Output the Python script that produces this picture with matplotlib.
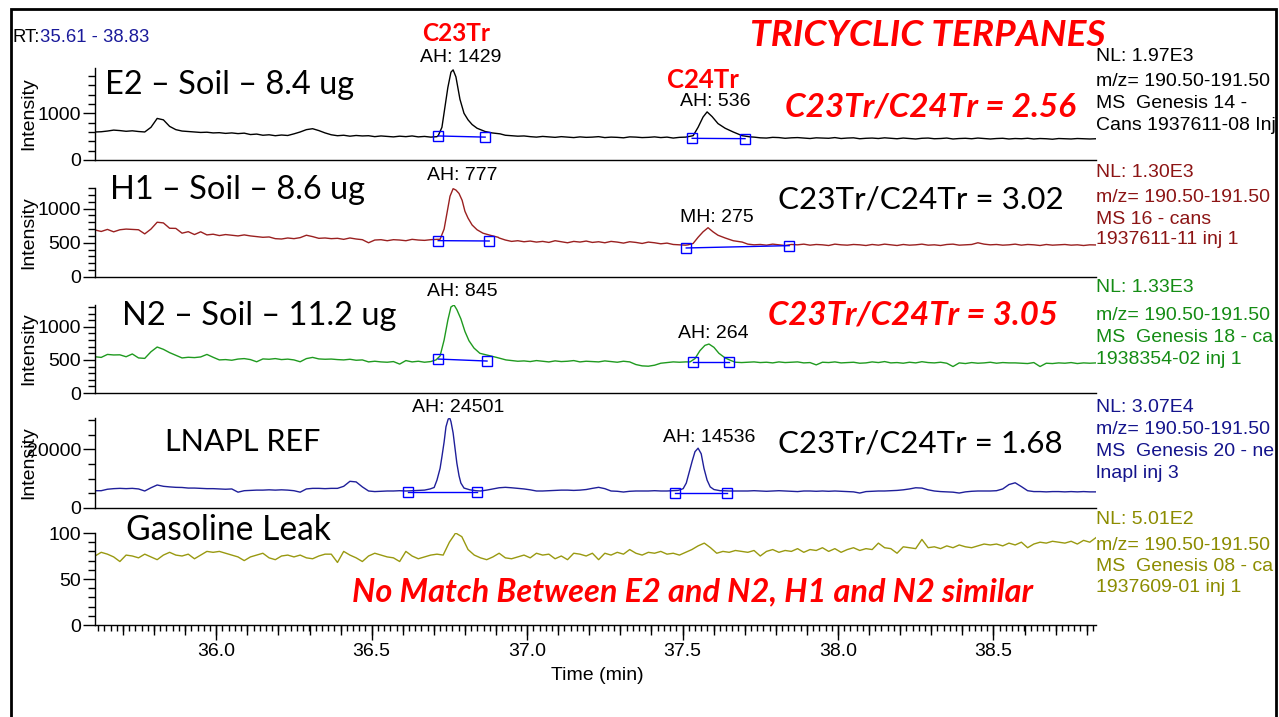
import numpy as np
import matplotlib
matplotlib.use("Agg")
import matplotlib.pyplot as plt
from matplotlib.ticker import MultipleLocator, FixedLocator, FuncFormatter
from matplotlib.patches import Rectangle

plt.rcParams['font.family'] = ['Liberation Sans', 'DejaVu Sans']
plt.rcParams['font.size'] = 14

W, H = 1279, 717
T_MIN, T_MAX = 35.61, 38.83

# ---------------- data ----------------
# baseline traces sampled every 0.02 min from 35.61 to 38.83
e2_base = [600, 605, 620, 640, 630, 615, 625, 610,
           600, 700, 890, 860, 720, 650, 620, 610,
           600, 590, 595, 580, 585, 570, 580, 565, 575,
           545, 555, 530, 540, 520, 535, 525,
           560, 600, 650, 670, 630, 580,
           540, 520, 530, 510, 525, 515, 520, 500, 515, 505, 495, 510, 500, 515, 495, 505, 490, 500,
           700, 1800, 1200, 900, 750, 650, 600, 580, 560, 540,
           530, 520, 510, 515, 500, 490, 505, 495, 485, 500,
           490, 480, 495, 485, 490, 500, 480, 490, 485, 475,
           495, 490, 480, 485, 495, 480, 490, 470, 485, 490,
           500, 700, 1000, 850, 700, 600, 540, 500, 490,
           480, 490, 475, 470, 485, 480, 465, 475, 480, 470,
           460, 475, 470, 465, 480, 460, 470, 475, 455, 465,
           470, 460, 475, 465, 455, 470, 460, 450, 465, 470,
           455, 460, 470, 450, 460, 465, 455, 470, 460, 450,
           460, 465, 450, 460, 455, 465, 450, 460, 455, 445,
           460, 455, 450, 460, 455, 450, 455]
e2_c23_t = [36.714, 36.726, 36.736, 36.745, 36.755, 36.762, 36.771, 36.784, 36.797,
            36.810, 36.823, 36.839, 36.865, 36.887, 36.913]
e2_c23_v = [520, 700, 1150, 1550, 1880, 1930, 1780, 1300, 1000, 860, 760, 680, 610, 580, 560]
e2_c24_t = [37.518, 37.534, 37.550, 37.566, 37.579, 37.595, 37.614, 37.637, 37.663, 37.692, 37.718]
e2_c24_v = [500, 520, 700, 920, 1030, 930, 780, 680, 600, 520, 495]

h1_base = [687, 665, 695, 660, 690, 700, 695, 690,
           630, 700, 800, 790, 712, 710, 640, 662,
           620, 660, 615, 625, 605, 620, 610, 600, 615,
           600, 590, 580, 585, 560, 555, 570,
           560, 575, 610, 590, 565, 570,
           560, 565, 550, 570, 555, 545, 500, 540, 545, 530, 545, 540, 530, 550, 540, 535, 545, 550,
           560, 900, 1250, 1000, 800, 700, 640, 610, 590, 570,
           540, 520, 530, 515, 525, 510, 520, 505, 530, 515,
           500, 520, 510, 525, 505, 515, 500, 520, 510, 495,
           515, 505, 490, 510, 500, 485, 495, 475, 470, 465,
           500, 600, 700, 650, 580, 530, 510, 500, 490,
           480, 470, 475, 465, 480, 470, 460, 475, 470, 480,
           465, 475, 470, 460, 480, 470, 465, 475, 470, 460,
           475, 465, 480, 470, 460, 475, 465, 470, 480, 465,
           470, 460, 475, 480, 465, 470, 475, 500, 480, 470,
           475, 465, 470, 480, 465, 475, 470, 460, 475, 465,
           470, 475, 465, 470, 460, 470, 468]
h1_c23_t = [36.720, 36.733, 36.743, 36.752, 36.762, 36.771, 36.781, 36.791, 36.800,
            36.810, 36.823, 36.839, 36.858, 36.881, 36.907]
h1_c23_v = [550, 700, 950, 1180, 1290, 1270, 1220, 1120, 960, 860, 760, 690, 640, 610, 580]
h1_c24_t = [37.518, 37.534, 37.550, 37.566, 37.582, 37.598, 37.614, 37.637, 37.663, 37.692]
h1_c24_v = [470, 490, 580, 660, 720, 660, 610, 570, 530, 510]

n2_base = [548, 538, 583, 575, 577, 548, 590, 530,
           523, 623, 695, 660, 610, 570, 530, 540,
           535, 545, 583, 540, 500, 505, 495, 513, 520,
           505, 472, 515, 510, 520, 505, 512,
           500, 472, 520, 538, 515, 510,
           513, 505, 500, 510, 495, 500, 470, 480, 470, 465, 475, 437, 490, 470, 480, 465, 475, 470,
           560, 900, 1300, 1100, 800, 650, 580, 550, 530, 510,
           495, 490, 480, 485, 475, 490, 480, 470, 485, 475,
           480, 490, 470, 480, 475, 470, 485, 475, 465, 480,
           470, 430, 410, 405, 420, 450, 460, 470, 465, 470,
           470, 600, 740, 650, 520, 480, 470, 465, 460,
           465, 470, 460, 465, 455, 470, 460, 465, 470, 455,
           460, 425, 465, 460, 470, 455, 460, 465, 450, 455,
           470, 460, 475, 455, 460, 450, 465, 455, 473, 460,
           455, 465, 450, 400, 455, 445, 460, 450, 455, 465,
           450, 460, 455, 455, 450, 445, 460, 400, 450, 445,
           455, 450, 460, 445, 455, 450, 455]
n2_c23_t = [36.707, 36.720, 36.733, 36.745, 36.755, 36.765, 36.774, 36.787, 36.800,
            36.813, 36.829, 36.848, 36.874, 36.900, 36.932]
n2_c23_v = [500, 560, 800, 1100, 1300, 1330, 1260, 1120, 930, 790, 680, 600, 570, 540, 500]
n2_c24_t = [37.524, 37.540, 37.556, 37.572, 37.585, 37.601, 37.617, 37.637, 37.656]
n2_c24_v = [470, 520, 640, 720, 740, 690, 600, 530, 490]

lnapl_base = [5900, 5900, 6400, 6600, 6700, 6600, 6700, 6500,
              5800, 6900, 7850, 7400, 7200, 7050, 7000, 6800,
              6800, 6700, 6600, 6600, 6500, 6400, 6500, 5400, 5900,
              6000, 6100, 6100, 6200, 6100, 6200, 6100,
              5900, 5400, 6500, 6700, 6700, 6600,
              6700, 6700, 7400, 9100, 8900, 7200, 5800, 5600, 5700, 5800, 5800, 5900, 5800, 5900,
              6000, 6100, 6300, 6500,
              9000, 30000, 20000, 9000, 6500, 6000, 5800, 6100, 6500, 6900,
              7050, 6900, 6700, 6500, 6200, 5800, 5800, 5900, 6000, 6100,
              6100, 6000, 6100, 6300, 6700, 7050, 6600, 5800, 5700, 5450,
              5700, 5800, 5800, 5800, 5900, 5800, 5800, 5900, 6000, 6100,
              6600, 16000, 20000, 9500, 6300, 5900, 5800, 5800, 5800,
              5800, 5900, 5800, 5700, 5800, 5900, 5800, 5700, 5600, 5800,
              5800, 5700, 5800, 5700, 5800, 5700, 5600, 5500, 5100, 5600,
              5700, 5800, 5800, 5900, 6000, 6200, 6500, 6900, 6800, 6200,
              5800, 5600, 5500, 5400, 5100, 5500, 5700, 5800, 5800, 5800,
              5900, 6500, 8000, 8600, 7300, 5900, 5600, 5600, 5500, 5600,
              5600, 5500, 5600, 5500, 5600, 5500, 5500]
lnapl_c23_t = [36.688, 36.701, 36.710, 36.720, 36.726, 36.733, 36.739, 36.746, 36.751,
               36.755, 36.762, 36.768, 36.774, 36.781, 36.787, 36.797, 36.816, 36.835]
lnapl_c23_v = [6500, 7000, 9500, 13500, 17500, 22500, 27700, 30300, 30700,
               29500, 25600, 20500, 15300, 11000, 8500, 6800, 6200, 5900]
lnapl_c24_t = [37.486, 37.502, 37.512, 37.521, 37.531, 37.540, 37.550, 37.560, 37.569,
               37.579, 37.589, 37.601, 37.621]
lnapl_c24_v = [6000, 6600, 8500, 12000, 16000, 19200, 20400, 18500, 13500, 9500, 7200, 6300, 5900]

gas_base = [75, 79, 77, 74, 69, 76, 75, 73,
            77, 74, 71, 76, 79, 76, 75, 77,
            72, 76, 80, 79, 80, 78, 76, 74, 70,
            74, 76, 78, 73, 71, 75, 76,
            74, 76, 73, 72, 75, 77,
            77, 68, 80, 76, 73, 69, 75, 78, 76, 74, 73, 69, 80, 75, 72, 74, 76, 77,
            76, 90, 100, 96, 82, 76, 73, 71, 74, 78,
            73, 72, 74, 76, 73, 78, 76, 77, 72, 75,
            71, 78, 77, 75, 78, 71, 78, 76, 79, 77,
            82, 78, 76, 79, 78, 80, 77, 78, 76, 79,
            82, 86, 89, 84, 78, 80, 79, 81, 80,
            79, 81, 75, 80, 82, 79, 81, 80, 83, 79,
            82, 81, 84, 80, 83, 79, 82, 84, 81, 83,
            82, 89, 84, 83, 78, 85, 84, 83, 93, 84,
            85, 83, 86, 84, 87, 85, 84, 86, 88, 87,
            88, 86, 89, 87, 90, 84, 88, 90, 89, 91,
            90, 89, 91, 88, 92, 90, 95]

# peak integration baseline points (start, end)
e2_marks = [([36.713, 36.865], [515, 490]), ([37.531, 37.701], [464, 457])]
h1_marks = [([36.714, 36.878], [531, 526]), ([37.512, 37.843], [424, 458])]
n2_marks = [([36.714, 36.871], [513, 483]), ([37.534, 37.650], [468, 468])]
lnapl_marks = [([36.617, 36.839], [5560, 5560]), ([37.476, 37.643], [5020, 5020])]

y_max = [1970, 1300, 1330, 30700, 100]
y_major = [[0, 1000], [0, 500, 1000], [0, 500, 1000], [0, 20000], [0, 50, 100]]
y_minor = [200, 100, 100, 5000, 10]

trace_colors = ['#000000', '#9a2020', '#1f9a1f', '#1f1f9a', '#999910']
text_colors = ['#000000', '#8c1414', '#148c14', '#14148c', '#8c8c00']

info_texts = [
    ["NL: 1.97E3", "m/z= 190.50-191.50", "MS  Genesis 14 -", "Cans 1937611-08 Inj"],
    ["NL: 1.30E3", "m/z= 190.50-191.50", "MS 16 - cans", "1937611-11 inj 1"],
    ["NL: 1.33E3", "m/z= 190.50-191.50", "MS  Genesis 18 - ca", "1938354-02 inj 1"],
    ["NL: 3.07E4", "m/z= 190.50-191.50", "MS  Genesis 20 - ne", "lnapl inj 3"],
    ["NL: 5.01E2", "m/z= 190.50-191.50", "MS  Genesis 08 - ca", "1937609-01 inj 1"],
]
info_y = [[56.7, 82, 103.5, 125], [172.7, 197, 219, 240], [288, 315, 337.7, 359],
          [407.7, 430, 451.7, 473], [520, 545, 566.7, 588]]

peak_labels = [("AH: 1429", 461, 57), ("AH: 536", 715, 102),
               ("AH: 777", 462, 175), ("MH: 275", 717, 218),
               ("AH: 845", 462, 292), ("AH: 264", 713, 334),
               ("AH: 24501", 458, 407), ("AH: 14536", 709, 438)]


def merge(base, peaks):
    t = np.linspace(T_MIN, T_MAX, len(base))
    v = np.asarray(base, float)
    keep = np.ones(len(t), bool)
    for pt, pv in peaks:
        keep &= ~((t >= pt[0]) & (t <= pt[-1]))
    tt = np.concatenate([t[keep]] + [np.asarray(p[0], float) for p in peaks])
    vv = np.concatenate([v[keep]] + [np.asarray(p[1], float) for p in peaks])
    o = np.argsort(tt)
    return tt[o], vv[o]


series = [
    merge(e2_base, [(e2_c23_t, e2_c23_v), (e2_c24_t, e2_c24_v)]),
    merge(h1_base, [(h1_c23_t, h1_c23_v), (h1_c24_t, h1_c24_v)]),
    merge(n2_base, [(n2_c23_t, n2_c23_v), (n2_c24_t, n2_c24_v)]),
    merge(lnapl_base, [(lnapl_c23_t, lnapl_c23_v), (lnapl_c24_t, lnapl_c24_v)]),
    merge(gas_base, []),
]
marks = [e2_marks, h1_marks, n2_marks, lnapl_marks, []]

# ---------------- figure ----------------
fig = plt.figure(figsize=(W / 100, H / 100), dpi=100)
fig.patch.set_facecolor('white')

panel_px = [(68, 160), (188, 277), (305, 393), (418, 508), (533, 625)]
AX_L, AX_R = 95, 1096

axes = []
for k, (top, bot) in enumerate(panel_px):
    ax = fig.add_axes([AX_L / W, 1 - bot / H, (AX_R - AX_L) / W, (bot - top) / H])
    axes.append(ax)
    t, v = series[k]
    ax.plot(t, v, color=trace_colors[k], lw=1.0, zorder=2)
    for mt, mv in marks[k]:
        ax.plot(mt, mv, color='#0000ff', lw=1.0, marker='s', ms=6.5,
                mfc='none', mec='#0000ff', mew=1.0, zorder=3)
    ax.set_xlim(T_MIN, T_MAX)
    ax.set_ylim(0, y_max[k])
    for s in ('top', 'right'):
        ax.spines[s].set_visible(False)
    for s in ('left', 'bottom'):
        ax.spines[s].set_linewidth(1.0)
        ax.spines[s].set_color('black')
    ax.yaxis.set_major_locator(FixedLocator(y_major[k]))
    ax.yaxis.set_minor_locator(MultipleLocator(y_minor[k]))
    ax.tick_params(axis='y', which='major', length=9, width=1, pad=1,
                   labelsize=14, direction='out')
    ax.tick_params(axis='y', which='minor', length=5, width=1, direction='out')
    if k < 4:
        ax.tick_params(axis='x', which='both', bottom=False, labelbottom=False)
        ax.set_ylabel("Intensity", fontsize=14)
        ax.yaxis.set_label_coords(-0.058, 0.5)
    else:
        ax.xaxis.set_major_locator(FixedLocator([36.0, 36.5, 37.0, 37.5, 38.0, 38.5]))
        ax.xaxis.set_major_formatter(FuncFormatter(lambda x, p: f"{x:.1f}"))
        ax.xaxis.set_minor_locator(MultipleLocator(0.02))
        ax.tick_params(axis='x', which='major', length=11, width=1, pad=2,
                       labelsize=14, direction='out')
        ax.tick_params(axis='x', which='minor', length=4, width=1, direction='out')
        sec = ax.secondary_xaxis('bottom')
        sec.xaxis.set_major_locator(MultipleLocator(0.1))
        sec.tick_params(axis='x', which='major', length=7, width=1,
                        labelbottom=False, direction='out')
        sec.tick_params(axis='x', which='minor', bottom=False)
        sec.spines['bottom'].set_visible(False)


def fpos(x, y):
    return x / W, 1 - y / H


# right-hand info text
for k in range(5):
    for s, yy in zip(info_texts[k], info_y[k]):
        fig.text(*fpos(1096, yy), s, color=text_colors[k], fontsize=14,
                 ha='left', va='center')

# peak labels
for s, xx, yy in peak_labels:
    fig.text(*fpos(xx, yy), s, color='black', fontsize=14, ha='center', va='center')

# RT range
fig.text(*fpos(12, 41.7), "RT:", color='black', fontsize=13.3, ha='left', va='baseline')
fig.text(*fpos(40.5, 41.7), "35.61 - 38.83", color='#1a1a9a', fontsize=13.3,
         ha='left', va='baseline')

fig.text(*fpos(597, 676), "Time (min)", fontsize=14, ha='center', va='center')

# big annotation texts fitted to their extents
renderer = fig.canvas.get_renderer()
CAL = ['Lato', 'DejaVu Sans']


def fit_text(s, x0, x1, base_y, color, weight='normal', style='normal', guess=24):
    t = fig.text(*fpos(x0, base_y), s, fontsize=guess, color=color, fontweight=weight,
                 fontstyle=style, family=CAL, ha='left', va='baseline')
    w = t.get_window_extent(renderer).width
    t.set_fontsize(guess * (x1 - x0) / w)
    return t


RED = '#ff0000'
fit_text("TRICYCLIC TERPANES", 750, 1107, 46, RED, 'bold', 'italic')
fit_text("C23Tr", 422, 490, 41, RED, 'bold')
fit_text("C24Tr", 667, 739, 88, RED, 'bold')
fit_text("E2 \u2013 Soil \u2013 8.4 ug", 105, 354, 94, 'black')
fit_text("C23Tr/C24Tr = 2.56", 785, 1077, 117, RED, 'bold', 'italic')
fit_text("H1 \u2013 Soil \u2013 8.6 ug", 110, 365, 199, 'black')
fit_text("C23Tr/C24Tr = 3.02", 778, 1064, 208, 'black')
fit_text("N2 \u2013 Soil \u2013 11.2 ug", 122, 397, 325, 'black')
fit_text("C23Tr/C24Tr = 3.05", 768, 1058, 325, RED, 'bold', 'italic')
fit_text("LNAPL REF", 165, 321, 451, 'black')
fit_text("C23Tr/C24Tr = 1.68", 778, 1063, 453, 'black')
fit_text("Gasoline Leak", 126, 331, 540, 'black')
fit_text("No Match Between E2 and N2, H1 and N2 similar", 352, 1032, 601, RED, 'bold', 'italic')

# white margin beyond frame + frame
fig.add_artist(Rectangle((1277 / W, 0), 3 / W, 1, transform=fig.transFigure,
                         fc='white', ec='none', zorder=20))
fig.add_artist(Rectangle((10.5 / W, -0.05), (1276 - 10.5) / W, 1.05 - 9 / H,
                         transform=fig.transFigure, fill=False, ec='black', lw=2,
                         zorder=21))

fig.savefig("out.png", dpi=100, facecolor='white')
